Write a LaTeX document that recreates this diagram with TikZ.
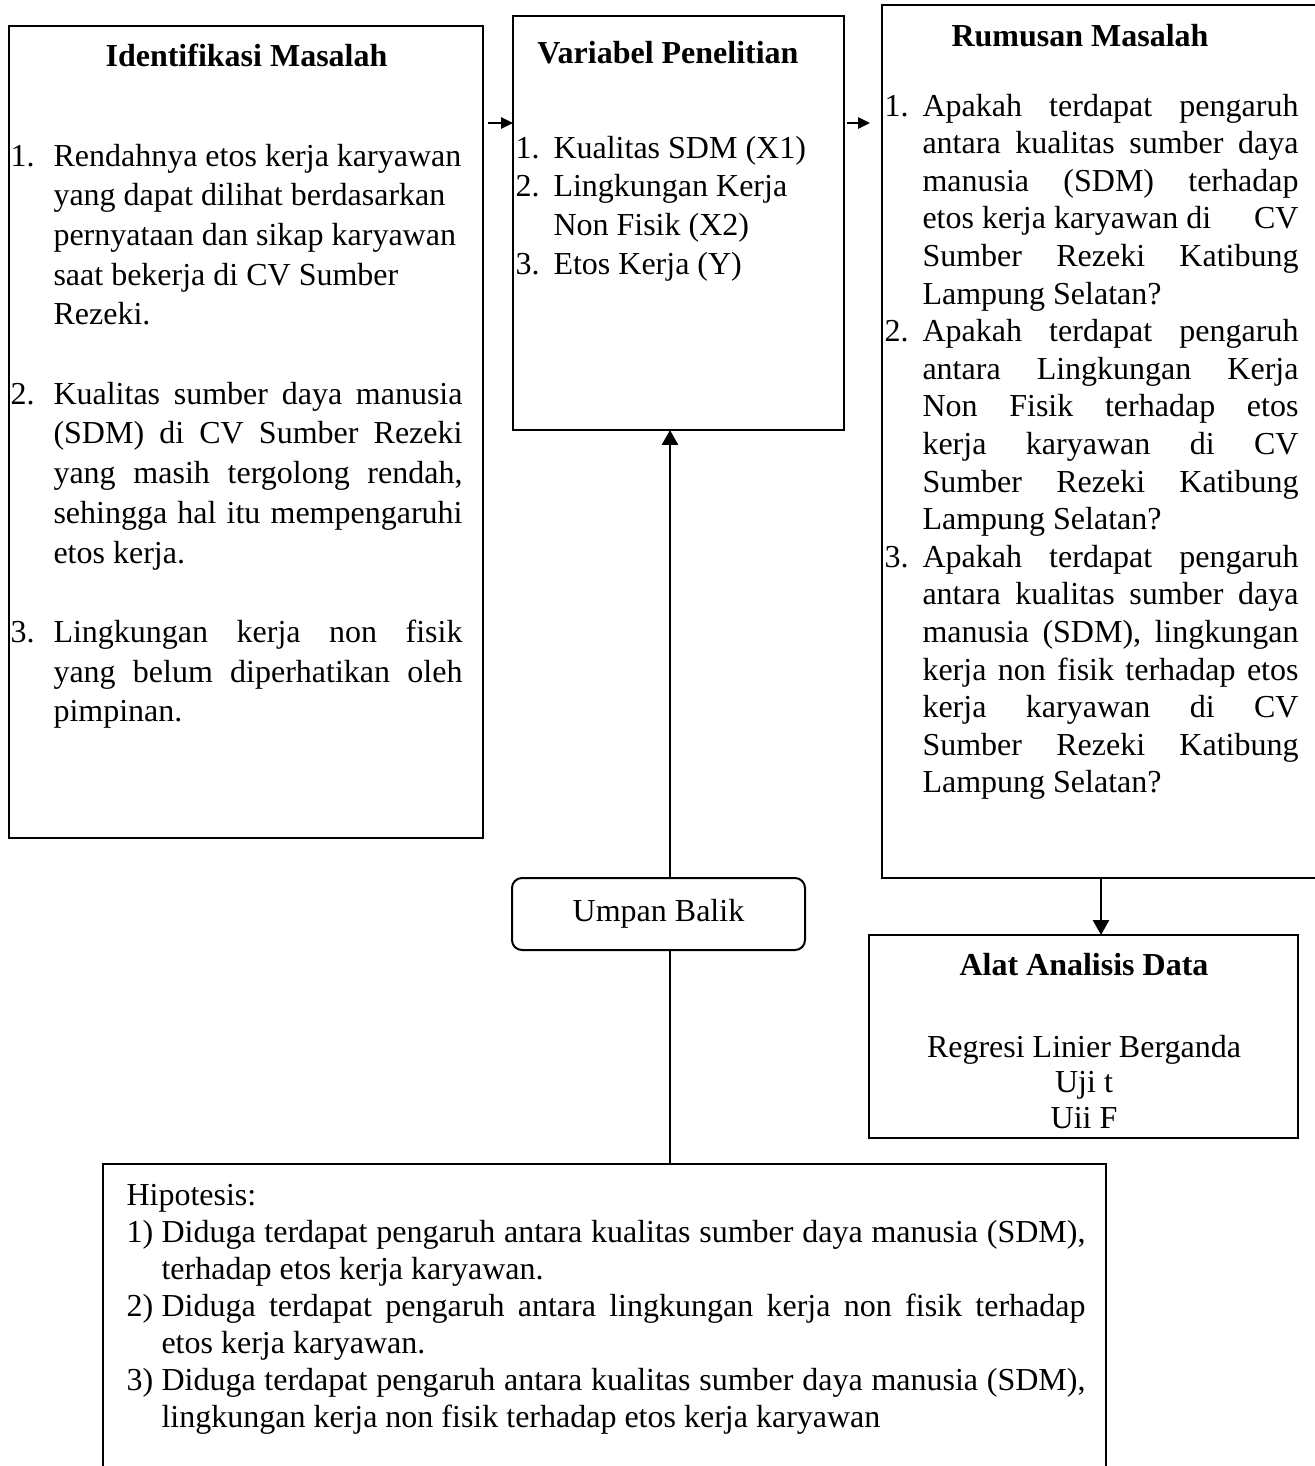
\documentclass[tikz,border=0pt]{standalone}
\usepackage{fontspec}
\setmainfont{Liberation Serif}
\usetikzlibrary{arrows.meta,calc}
\newdimen\pxu \pxu=0.375pt
\newlength\numw \newlength\txtw
\newcommand\Nl[2]{\noindent\makebox[\numw][l]{#1}\makebox[\txtw][l]{#2}\par}
\newcommand\Nj[2]{\noindent\makebox[\numw][l]{#1}\makebox[\txtw][s]{#2}\par}
\newcommand\Cl[1]{\noindent\hspace*{\numw}\makebox[\txtw][l]{#1}\par}
\newcommand\Cj[1]{\noindent\hspace*{\numw}\makebox[\txtw][s]{#1}\par}
\newcommand\Bl{\noindent\mbox{}\par}
\newcommand\Tblock[4]{%
  \setlength\numw{#1\pxu}\setlength\txtw{#2\pxu}%
  \parbox[t]{\dimexpr\numw+\txtw\relax}{\fontsize{12pt}{14pt}\selectfont\baselineskip=#3\pxu\parskip=0pt\relax #4}}
\begin{document}
\begin{tikzpicture}[x=0.375pt,y=-0.375pt,
  box/.style={draw, line width=0.6pt, rectangle, inner sep=0pt, outer sep=0pt, anchor=north west},
  arr/.style={line width=0.9pt, -{Triangle[length=5.6pt,width=6pt]}},
  sarr/.style={line width=0.9pt, -{Triangle[length=4.5pt,width=4.2pt]}},
  conn/.style={line width=0.9pt},
  txt/.style={inner sep=0pt, anchor=base west, font=\fontsize{12pt}{14pt}\selectfont},
  ttl/.style={inner sep=0pt, anchor=base, font=\fontsize{12pt}{14pt}\selectfont\bfseries}]
\useasboundingbox (0,0) rectangle (1315,1466);
\clip (0,0) rectangle (1315,1466);

% boxes
\node[box, minimum width=177.75pt, minimum height=304.5pt] (idbox) at (9,26) {};
\node[box, minimum width=124.125pt, minimum height=155.25pt] (varbox) at (513,16) {};
\node[box, minimum width=172.5pt, minimum height=327.375pt] (rumbox) at (882,5) {};
\node[box, line width=0.75pt, rounded corners=3.75pt, minimum width=109.875pt, minimum height=27pt,
      font=\fontsize{12pt}{14pt}\selectfont] (umpan) at (512,878) {Umpan Balik};
\node[box, line width=1.1pt, minimum width=160.875pt, minimum height=76.125pt] (alat) at (869,935) {};
\node[box, line width=0.75pt, minimum width=376.125pt, minimum height=126pt] (hipo) at (103,1164) {};

% connectors
\coordinate (r1) at (0,123);
\coordinate (vx) at (670,0);
\coordinate (rx) at (1101,0);
\draw[sarr] ($(idbox.east |- r1)+(5,0)$) -- (varbox.west |- r1);
\draw[sarr] ($(varbox.east |- r1)+(3,0)$) -- ($(rumbox.west |- r1)+(-12,0)$);
\draw[arr] (umpan.north -| vx) -- (varbox.south -| vx);
\draw[conn] (umpan.south -| vx) -- (hipo.north -| vx);
\draw[arr] (rumbox.south -| rx) -- (alat.north -| rx);

% texts: Identifikasi Masalah
\node[ttl] (t1) at (246.5,66) {Identifikasi Masalah};
\node[txt] (b1) at (10,166) {\Tblock{43}{409}{39.7}{%
\Nl{1.}{Rendahnya etos kerja karyawan}
\Cl{yang dapat dilihat berdasarkan}
\Cl{pernyataan dan sikap karyawan}
\Cl{saat bekerja di CV Sumber}
\Cl{Rezeki.}
\Bl
\Nj{2.}{Kualitas sumber daya manusia}
\Cj{(SDM) di CV Sumber Rezeki}
\Cj{yang masih tergolong rendah,}
\Cj{sehingga hal itu mempengaruhi}
\Cl{etos kerja.}
\Bl
\Nj{3.}{Lingkungan kerja non fisik}
\Cj{yang belum diperhatikan oleh}
\Cl{pimpinan.}}};

% Variabel Penelitian
\node[ttl] (t2) at (668,63) {Variabel Penelitian};
\node[txt] (b2) at (515,158) {\Tblock{38}{260}{38.7}{%
\Nl{1.}{Kualitas SDM (X1)}
\Nl{2.}{Lingkungan Kerja}
\Cl{Non Fisik (X2)}
\Nl{3.}{Etos Kerja (Y)}}};

% Rumusan Masalah
\node[ttl] (t3) at (1080,46) {Rumusan Masalah};
\node[txt] (b3) at (884,116) {\Tblock{38}{376}{37.6}{%
\Nj{1.}{Apakah terdapat pengaruh}
\Cj{antara kualitas sumber daya}
\Cj{manusia (SDM) terhadap}
\Cl{etos kerja karyawan di\hfill CV}
\Cj{Sumber Rezeki Katibung}
\Cl{Lampung Selatan?}
\Nj{2.}{Apakah terdapat pengaruh}
\Cj{antara Lingkungan Kerja}
\Cj{Non Fisik terhadap etos}
\Cj{kerja karyawan di CV}
\Cj{Sumber Rezeki Katibung}
\Cl{Lampung Selatan?}
\Nj{3.}{Apakah terdapat pengaruh}
\Cj{antara kualitas sumber daya}
\Cj{manusia (SDM), lingkungan}
\Cj{kerja non fisik terhadap etos}
\Cj{kerja karyawan di CV}
\Cj{Sumber Rezeki Katibung}
\Cl{Lampung Selatan?}}};

% Alat Analisis Data
\node[ttl] (t5) at (1084,975) {Alat Analisis Data};
\node[inner sep=0pt, anchor=base, font=\fontsize{12pt}{14pt}\selectfont] (b5) at (1084,1057)
  {\parbox[t]{400\pxu}{\centering\fontsize{12pt}{14pt}\selectfont\baselineskip=35.5\pxu
   Regresi Linier Berganda\par Uji t\par Uii F\par}};

% Hipotesis
\node[txt] (b4) at (126,1205) {\Tblock{35}{924}{37}{%
\noindent Hipotesis:\par
\Nj{1)}{Diduga terdapat pengaruh antara kualitas sumber daya manusia (SDM),}
\Cl{terhadap etos kerja karyawan.}
\Nj{2)}{Diduga terdapat pengaruh antara lingkungan kerja non fisik terhadap}
\Cl{etos kerja karyawan.}
\Nj{3)}{Diduga terdapat pengaruh antara kualitas sumber daya manusia (SDM),}
\Cl{lingkungan kerja non fisik terhadap etos kerja karyawan}}};
\end{tikzpicture}
\end{document}
